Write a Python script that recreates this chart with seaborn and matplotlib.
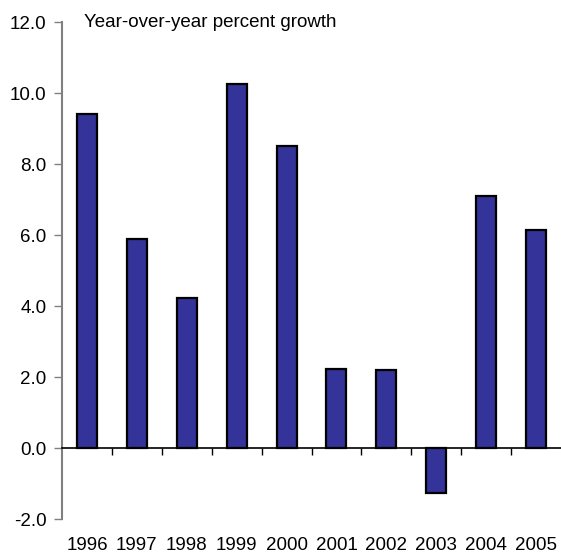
import matplotlib

matplotlib.use('Agg')
import matplotlib.pyplot as plt
import pandas as pd
import seaborn as sns
from matplotlib.ticker import FixedLocator

years = ['1996', '1997', '1998', '1999', '2000', '2001', '2002', '2003', '2004', '2005']
growth = [9.42, 5.88, 4.22, 10.25, 8.5, 2.23, 2.2, -1.27, 7.1, 6.15]
y_ticks = [-2.0, 0.0, 2.0, 4.0, 6.0, 8.0, 10.0, 12.0]
title = 'Year-over-year percent growth'

sns.set_style('white')
plt.rcParams['font.family'] = ['Liberation Sans', 'DejaVu Sans']
plt.rcParams['text.color'] = 'black'
plt.rcParams['xtick.color'] = 'black'
plt.rcParams['ytick.color'] = 'black'

df = pd.DataFrame({'year': years, 'growth': growth})

fig = plt.figure(figsize=(5.61, 5.55), dpi=100)
ax = fig.add_axes([62 / 561, 36 / 555, 499 / 561, 496.7 / 555])

sns.barplot(data=df, x='year', y='growth', color='#333399', width=0.4,
            edgecolor='black', linewidth=1.6, saturation=1, ax=ax)

ax.set_xlim(-0.5, len(years) - 0.5)
ax.set_ylim(-2, 12)
ax.set_yticks(y_ticks)
ax.set_yticklabels([f'{v:.1f}' for v in y_ticks], fontsize=13.5)
ax.set_xlabel('')
ax.set_ylabel('')

for side in ['top', 'right']:
    ax.spines[side].set_visible(False)
ax.spines['left'].set_color('#808080')
ax.spines['left'].set_linewidth(1.5)
ax.spines['bottom'].set_position(('data', 0))
ax.spines['bottom'].set_color('black')
ax.spines['bottom'].set_linewidth(1.2)

ax.tick_params(axis='y', left=True, direction='out', length=6, width=1,
               color='#808080', labelcolor='black', pad=5)
ax.tick_params(axis='x', which='major', bottom=True, length=0, pad=64,
               labelsize=13.5, labelcolor='black')
ax.xaxis.set_minor_locator(FixedLocator([i + 0.5 for i in range(len(years) - 1)]))
ax.tick_params(axis='x', which='minor', bottom=True, direction='out', length=5,
               width=1, color='black')

ax.text(0.045, 1.0, title, transform=ax.transAxes, fontsize=13.5,
        ha='left', va='center')

fig.savefig('out.png', dpi=100)
